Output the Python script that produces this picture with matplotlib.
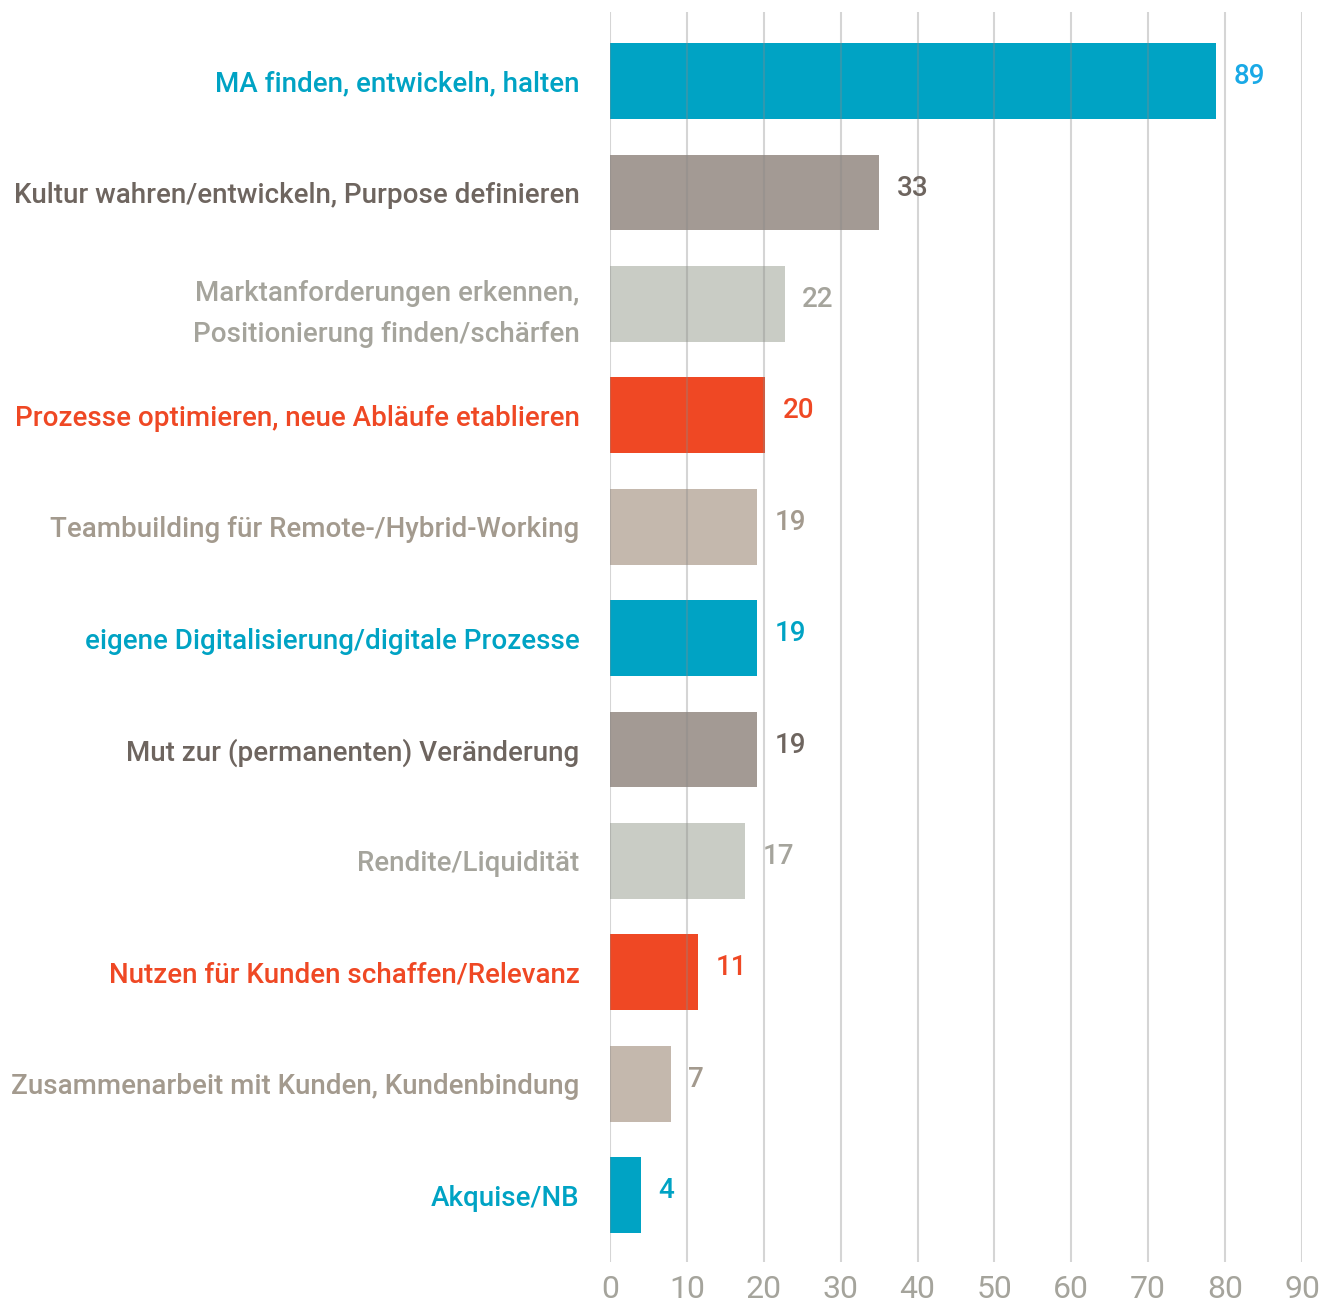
import matplotlib
matplotlib.use("Agg")
import matplotlib.pyplot as plt
import numpy as np

categories = [
    "MA finden, entwickeln, halten",
    "Kultur wahren/entwickeln, Purpose definieren",
    "Marktanforderungen erkennen,\nPositionierung finden/schärfen",
    "Prozesse optimieren, neue Abläufe etablieren",
    "Teambuilding für Remote-/Hybrid-Working",
    "eigene Digitalisierung/digitale Prozesse",
    "Mut zur (permanenten) Veränderung",
    "Rendite/Liquidität",
    "Nutzen für Kunden schaffen/Relevanz",
    "Zusammenarbeit mit Kunden, Kundenbindung",
    "Akquise/NB",
]
# printed values and bar lengths as drawn in the original
values = [89, 33, 22, 20, 19, 19, 19, 17, 11, 7, 4]
bar_lengths = [78.8, 35, 22.7, 20.2, 19.1, 19.1, 19.1, 17.5, 11.4, 7.9, 4.0]
bar_colors = ["#00A3C4", "#A39A94", "#C9CCC5", "#EF4824", "#C4B8AD",
              "#00A3C4", "#A39A94", "#C9CCC5", "#EF4824", "#C4B8AD", "#00A3C4"]
text_colors = ["#00A3C4", "#6E655F", "#A5A49C", "#EF4824", "#A39A8E",
               "#00A3C4", "#6E655F", "#A5A49C", "#EF4824", "#A39A8E", "#00A3C4"]
value_colors = ["#19A9E6", "#6E655F", "#A5A49C", "#EF4824", "#A39A8E",
                "#00A3C4", "#6E655F", "#A5A49C", "#EF4824", "#A39A8E", "#00A3C4"]
xticks = list(range(0, 100, 10))

plt.rcParams["font.family"] = ["Roboto", "DejaVu Sans"]

fig = plt.figure(figsize=(13.26, 13.06), dpi=100)
ax = fig.add_axes([610 / 1326, 44 / 1306, 692 / 1326, 1250 / 1306])

y = np.arange(len(categories))
ax.barh(y, bar_lengths, height=0.68, color=bar_colors, zorder=1)
ax.set_ylim(10.60, -0.62)
ax.set_xlim(0, 90)

for x in xticks:
    ax.axvline(x, color="#888888", alpha=0.35, lw=1.5, zorder=3)

for i, (L, v) in enumerate(zip(bar_lengths, values)):
    ax.text(L + 2.3, i - 0.04, str(v), color=value_colors[i], fontsize=20,
            fontweight="medium", va="center", ha="left")

ax.set_yticks(y)
ax.set_yticklabels(categories, fontsize=20, fontweight="medium", linespacing=1.65)
for lab, c in zip(ax.get_yticklabels(), text_colors):
    lab.set_color(c)
ax.tick_params(axis="y", length=0, pad=22)

ax.set_xticks(xticks)
ax.set_xticklabels([str(t) for t in xticks], fontsize=23, color="#A5A49C")
ax.tick_params(axis="x", length=0, pad=9)

for s in ax.spines.values():
    s.set_visible(False)

fig.savefig("out.png", dpi=100)
